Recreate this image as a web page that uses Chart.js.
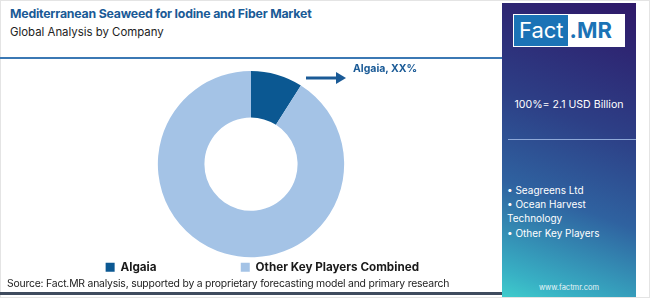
<!DOCTYPE html>
<html>
<head>
<meta charset="utf-8">
<script src="https://cdn.jsdelivr.net/npm/chart.js@4.4.0/dist/chart.umd.min.js"></script>
<style>
    body { margin: 0; width: 650px; height: 298px; overflow: hidden; background: #fff; font-family: 'Inter', 'Open Sans', sans-serif; }
    .frame { position: absolute; left: 0; top: 0; width: 648px; height: 296px; border: 1px solid #e4e4e4; }
    .title { position: absolute; left: 10px; top: 6px; font-size: 12.3px; font-weight: 700; color: #1a5a96; letter-spacing: -0.2px; }
    .subtitle { position: absolute; left: 10px; top: 25px; font-size: 11.4px; color: #222; }
    .rule { position: absolute; left: 0; top: 57px; width: 503px; height: 2px; background: #3b78b4; }
    .bottom-rule { position: absolute; left: 0; top: 292px; width: 503px; height: 3px; background: #3f4b5e; }
    .source { position: absolute; left: 7px; top: 277px; font-size: 10.4px; color: #222; letter-spacing: -0.2px; }
    .panel { position: absolute; left: 502px; top: 3px; width: 134px; height: 294px;
        background: linear-gradient(200deg, #2e1868 0%, #2d3f86 40%, #2f62a0 66%, #38b0c4 92%, #3fcccc 100%); color: #fff; }
    .logo { position: absolute; left: 11px; top: 11px; width: 110px; height: 31px; border: 1px solid #fff; background: #fff; display: flex; }
    .logo .a { background: #1b73b6; color: #fff; font-size: 22px; line-height: 31px; padding: 0 4px 0 5px; }
    .logo .b { color: #1b73b6; font-size: 22px; font-weight: 700; line-height: 31px; padding-left: 2px; }
    .total { position: absolute; left: 0; width: 134px; top: 95px; text-align: center; font-size: 10.6px; }
    .panel-rule { position: absolute; left: 6px; top: 136px; width: 128px; height: 1px; background: #8fa9d8; }
    .list { position: absolute; left: 5px; top: 180px; font-size: 10px; line-height: 14.2px; }
    .site { position: absolute; left: 0; width: 134px; top: 280px; text-align: center; font-size: 7.5px; color: #e8f4f8; }
    .chart-box { position: absolute; left: 79px; top: 71px; width: 344px; height: 212px; }
    .note { position: absolute; left: 353px; top: 62px; font-size: 10.5px; font-weight: 700; color: #1a5a96; }
    svg.arrow { position: absolute; left: 300px; top: 70px; }
</style>
</head>
<body>
<div class="frame"></div>
<div class="title">Mediterranean Seaweed for Iodine and Fiber Market</div>
<div class="subtitle">Global Analysis by Company</div>
<div class="rule"></div>
<div class="chart-box"><canvas id="donut"></canvas></div>
<svg class="arrow" width="50" height="16"><line x1="6" y1="8" x2="38" y2="8" stroke="#1a5a96" stroke-width="3"/><polygon points="36,2 46,8 36,14" fill="#1a5a96"/></svg>
<div class="note">Algaia, XX%</div>
<div class="source">Source: Fact.MR analysis, supported by a proprietary forecasting model and primary research</div>
<div class="bottom-rule"></div>
<div class="panel">
    <div class="logo"><span class="a">Fact</span><span class="b">.MR</span></div>
    <div class="total">100%= 2.1 USD Billion</div>
    <div class="panel-rule"></div>
    <div class="list">• Seagreens Ltd<br>• Ocean Harvest<br>Technology<br>• Other Key Players</div>
    <div class="site">www.factmr.com</div>
</div>
<script>
const companies = ['Algaia', 'Other Key Players Combined'];
const shares = [9, 91];
const sliceColors = ['#0b5892', '#a4c3e6'];

const legendFont = { family: 'Inter', size: 11.7, weight: 'bold' };
const legendGap = 4;
const legendBox = 9;
const legendRowWidth = 316;   // first box at x=107, last text ends at x=419

// the legend items sit far apart in the original, pad the first label with spaces
function spacedLabels(chart) {
    const items = Chart.overrides.doughnut.plugins.legend.labels.generateLabels(chart);
    const c = chart.ctx;
    c.save();
    c.font = `bold ${legendFont.size}px ${legendFont.family}`;
    const w1 = c.measureText(items[0].text).width;
    const w2 = c.measureText(items[1].text).width;
    const spaceW = c.measureText(' ').width;
    c.restore();
    const want = legendRowWidth - 2 * (legendBox + legendFont.size / 2 + legendGap) - w2;
    items[0].text += ' '.repeat(Math.max(0, Math.round((want - w1) / spaceW)));
    return items;
}

const ctx = document.getElementById('donut').getContext('2d');
new Chart(ctx, {
    type: 'doughnut',
    data: {
        labels: companies,
        datasets: [{
            data: shares,
            backgroundColor: sliceColors,
            borderWidth: 0
        }]
    },
    options: {
        responsive: true,
        maintainAspectRatio: false,
        animation: false,
        cutout: '50%',
        layout: { padding: 0 },
        plugins: {
            tooltip: { enabled: false },
            legend: {
                position: 'bottom',
                align: 'end',
                labels: {
                    boxWidth: legendBox,
                    boxHeight: legendBox,
                    padding: legendGap,
                    color: '#1a1a1a',
                    font: legendFont,
                    generateLabels: spacedLabels
                }
            }
        }
    }
});
</script>
</body>
</html>
